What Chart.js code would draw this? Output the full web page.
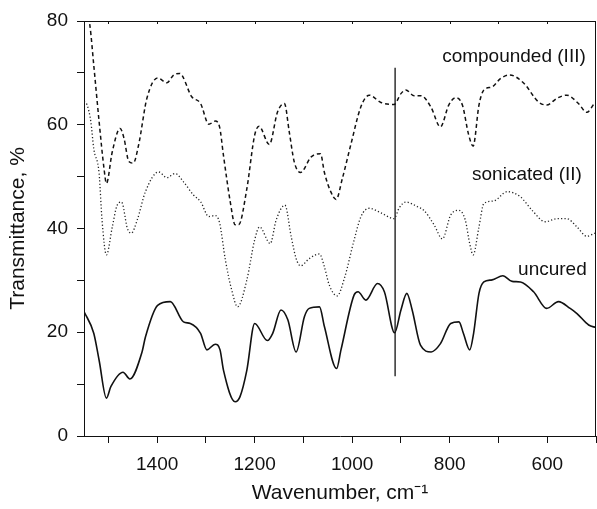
<!DOCTYPE html>
<html>
<head>
<meta charset="utf-8">
<script src="https://cdn.jsdelivr.net/npm/chart.js@4.4.1/dist/chart.umd.min.js"></script>
<style>
  body { margin: 0; background: #fff; }
  #wrap { width: 597px; height: 509px; }
</style>
</head>
<body>
<div id="wrap"><canvas id="irChart"></canvas></div>
<script>
// Uncured (solid)
const uncuredWn = [1550, 1530, 1519, 1504, 1495, 1470, 1456, 1431, 1424, 1399, 1373, 1346, 1332, 1311, 1298, 1281, 1271, 1264, 1240, 1230, 1216, 1200, 1174, 1163, 1146, 1132, 1115, 1098, 1088, 1067, 1057, 1032, 1023, 996, 988, 972, 948, 934, 913, 900, 888, 877, 860, 838, 819, 798, 781, 772, 759, 751, 740, 730, 713, 691, 672, 655, 628, 601, 577, 553, 539, 515, 500];
const uncuredT = [24, 19.8, 14.6, 7.3, 9.5, 12.3, 11.0, 16.2, 19.1, 25.2, 25.9, 22.0, 21.7, 19.8, 16.6, 17.7, 16.6, 12.7, 6.6, 7.6, 12.7, 21.7, 18.4, 19.8, 24.3, 22.4, 16.2, 23.0, 24.6, 24.9, 21.1, 13.0, 16.6, 27.2, 27.8, 26.2, 29.4, 27.8, 19.9, 24.3, 27.5, 24.3, 17.5, 16.2, 17.8, 21.7, 22.0, 19.8, 16.6, 19.8, 27.5, 29.7, 30.1, 30.9, 29.8, 29.7, 27.8, 24.6, 25.9, 24.6, 23.6, 21.4, 20.9];

// Sonicated (II) (dotted)
const sonicatedWn = [1550, 1544, 1536, 1530, 1519, 1513, 1504, 1492, 1482, 1473, 1461, 1453, 1441, 1424, 1397, 1380, 1363, 1346, 1325, 1311, 1294, 1281, 1272, 1260, 1247, 1235, 1216, 1200, 1190, 1168, 1156, 1138, 1125, 1115, 1106, 1088, 1067, 1057, 1047, 1031, 1016, 996, 982, 965, 941, 914, 904, 890, 866, 853, 832, 815, 798, 781, 768, 759, 752, 740, 730, 710, 682, 655, 631, 604, 580, 560, 539, 519, 502];
const sonicatedT = [64.5, 63.9, 60.6, 55.4, 50.6, 41.6, 34.9, 40.3, 44.5, 45.1, 40.0, 39.1, 41.6, 47.1, 50.9, 49.8, 50.6, 49.0, 46.4, 45.2, 42.3, 42.5, 41.1, 33.9, 28.1, 24.9, 30.1, 37.8, 40.3, 37.1, 41.6, 44.5, 38.4, 34.2, 32.8, 34.2, 35.1, 32.6, 29.1, 27.0, 30.4, 37.8, 42.3, 43.9, 43.0, 41.9, 43.9, 45.1, 44.2, 43.5, 40.7, 38.0, 42.6, 43.5, 41.6, 37.1, 34.9, 40.3, 44.8, 45.3, 47.1, 46.1, 43.5, 41.3, 41.9, 41.9, 40.3, 38.5, 39.1];

// Compounded (III) (dashed)
const compoundedWn = [1545, 1538, 1530, 1519, 1509, 1504, 1492, 1476, 1468, 1458, 1449, 1438, 1421, 1399, 1380, 1366, 1354, 1329, 1311, 1294, 1281, 1272, 1264, 1250, 1240, 1233, 1216, 1200, 1191, 1170, 1153, 1139, 1129, 1119, 1106, 1084, 1065, 1057, 1044, 1033, 1020, 1003, 982, 965, 941, 914, 900, 890, 873, 859, 839, 819, 802, 788, 774, 761, 752, 740, 730, 713, 696, 677, 648, 618, 601, 580, 560, 536, 519, 502];
const compoundedT = [82, 79.2, 71.5, 60.6, 51.6, 48.7, 54.8, 59.3, 57.4, 52.9, 52.6, 56.1, 65.1, 69.0, 68.1, 69.6, 69.9, 65.4, 64.1, 60.1, 60.7, 59.6, 54.1, 45.1, 40.7, 40.7, 47.7, 58.0, 59.7, 56.2, 62.5, 64.1, 58.6, 52.9, 50.8, 53.8, 54.4, 50.8, 47.1, 45.6, 49.7, 56.1, 63.5, 65.7, 64.3, 63.9, 66.0, 66.7, 65.6, 65.6, 63.5, 59.6, 63.8, 65.2, 63.8, 58.0, 55.9, 63.8, 66.7, 67.3, 68.9, 69.6, 68.0, 64.4, 63.8, 65.1, 65.7, 64.1, 62.4, 64.3];

// vertical marker line
const markerWn = 912;
const markerT = [11.5, 71];

// curve labels
const labelText = ['compounded (III)', 'sonicated (II)', 'uncured'];
const labelWn = [521, 529, 519];
const labelT = [73.1, 50.3, 32];

const xTicks = [1400, 1200, 1000, 800, 600];
const yTicks = [0, 20, 40, 60, 80];

function pts(xs, ys) {
    return xs.map((x, i) => ({ x: x, y: ys[i] }));
}

const FONT = "'Liberation Sans', Arial, sans-serif";
const INK = '#111';

const framePlugin = {
    id: 'frame',
    afterDraw(chart) {
        const ctx = chart.ctx;
        const a = chart.chartArea;
        const xs = chart.scales.x;
        ctx.save();
        ctx.strokeStyle = INK;
        ctx.lineWidth = 1;
        ctx.beginPath();
        ctx.moveTo(a.left, a.top + 0.5);
        ctx.lineTo(a.right, a.top + 0.5);
        ctx.moveTo(a.right - 0.5, a.top);
        ctx.lineTo(a.right - 0.5, a.bottom);
        // small inward ticks on the top edge
        for (let v = 600; v <= 1500; v += 100) {
            const px = Math.round(xs.getPixelForValue(v)) + 0.5;
            ctx.moveTo(px, a.top);
            ctx.lineTo(px, a.top + 3);
        }
        ctx.stroke();
        // curve labels
        ctx.fillStyle = INK;
        ctx.font = '19px ' + FONT;
        ctx.textAlign = 'right';
        ctx.textBaseline = 'middle';
        labelText.forEach((t, i) => {
            ctx.fillText(t, xs.getPixelForValue(labelWn[i]), chart.scales.y.getPixelForValue(labelT[i]));
        });
        ctx.restore();
    }
};

const ctx = document.getElementById('irChart').getContext('2d');
const irChart = new Chart(ctx, {
    type: 'line',
    data: {
        datasets: [{
            label: 'compounded (III)',
            data: pts(compoundedWn, compoundedT),
            borderColor: INK,
            borderWidth: 1.5,
            borderDash: [4, 3],
            pointRadius: 0,
            cubicInterpolationMode: 'monotone'
        }, {
            label: 'sonicated (II)',
            data: pts(sonicatedWn, sonicatedT),
            borderColor: '#222',
            borderWidth: 1.3,
            borderDash: [1.2, 2.2],
            pointRadius: 0,
            cubicInterpolationMode: 'monotone'
        }, {
            label: 'uncured',
            data: pts(uncuredWn, uncuredT),
            borderColor: INK,
            borderWidth: 1.6,
            pointRadius: 0,
            cubicInterpolationMode: 'monotone'
        }, {
            label: 'marker',
            data: [{ x: markerWn, y: markerT[0] }, { x: markerWn, y: markerT[1] }],
            borderColor: INK,
            borderWidth: 1.3,
            pointRadius: 0
        }]
    },
    options: {
        responsive: true,
        maintainAspectRatio: false,
        animation: false,
        layout: { padding: { top: 21, right: 1, left: 0, bottom: 0 } },
        plugins: {
            legend: { display: false },
            tooltip: { enabled: false }
        },
        scales: {
            x: {
                type: 'linear',
                reverse: true,
                min: 500,
                max: 1550,
                afterFit: s => { s.height = 73; s.paddingLeft = 0; s.paddingRight = 0; },
                border: { display: true, color: INK, width: 1 },
                grid: { display: true, drawOnChartArea: false, tickLength: 7, color: INK },
                ticks: {
                    stepSize: 100,
                    includeBounds: false,
                    autoSkip: false,
                    maxRotation: 0,
                    padding: 10,
                    color: INK,
                    font: { family: FONT, size: 19 },
                    callback: v => xTicks.includes(v) ? String(v) : ''
                },
                title: {
                    display: true,
                    text: 'Wavenumber, cm\u207B\u00B9',
                    color: INK,
                    font: { family: FONT, size: 21 },
                    padding: { top: 0, bottom: 3 }
                }
            },
            y: {
                min: 0,
                max: 80,
                afterFit: s => { s.width = 84; s.paddingTop = 0; s.paddingBottom = 0; },
                border: { display: true, color: INK, width: 1 },
                grid: { display: true, drawOnChartArea: false, tickLength: 7, color: INK },
                ticks: {
                    stepSize: 10,
                    autoSkip: false,
                    padding: 9,
                    color: INK,
                    font: { family: FONT, size: 19 },
                    callback: v => yTicks.includes(v) ? String(v) : ''
                },
                title: {
                    display: true,
                    text: 'Transmittance, %',
                    color: INK,
                    font: { family: FONT, size: 21 },
                    padding: { top: 6, bottom: 0 }
                }
            }
        }
    },
    plugins: [framePlugin]
});
</script>
</body>
</html>
